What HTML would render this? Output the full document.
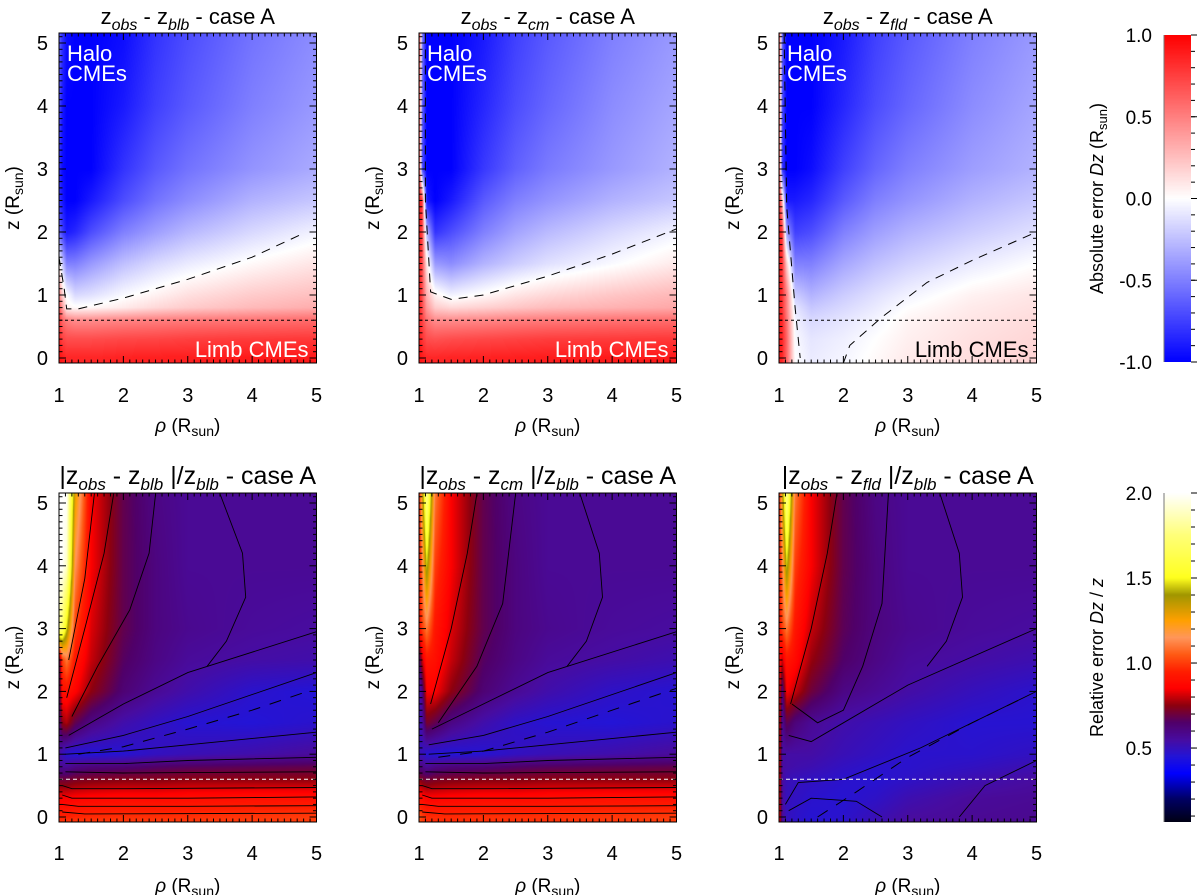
<!DOCTYPE html>
<html><head><meta charset="utf-8">
<style>
html,body{margin:0;padding:0;background:#fff;}
#wrap{position:relative;width:1200px;height:895px;overflow:hidden;font-family:"Liberation Sans",sans-serif;}
canvas{position:absolute;}
svg{position:absolute;left:0;top:0;}
</style></head>
<body>
<div id="wrap">
<svg id="svg" width="1200" height="895"></svg>
</div>
<script>
// ---------- data ----------
const rhoGrid = [1,1.05,1.12,1.25,1.5,2,2.5,3,4,5];
const zGrid = [5.15,4,3,2.5,2,1.5,1,0.8,0.6,0.3,0,-0.1];
const absBlb = [
[-0.6,-0.8,-0.95,-1,-1,-0.95,-0.8,-0.7,-0.55,-0.45],
[-0.7,-0.9,-1,-1,-1,-0.9,-0.75,-0.65,-0.5,-0.4],
[-0.8,-0.95,-1,-1,-1,-0.8,-0.65,-0.55,-0.42,-0.33],
[-0.8,-0.9,-1,-1,-0.9,-0.7,-0.55,-0.45,-0.3,-0.22],
[-0.6,-0.75,-0.9,-0.85,-0.7,-0.5,-0.38,-0.28,-0.15,-0.05],
[0.1,-0.2,-0.5,-0.5,-0.4,-0.25,-0.15,-0.08,0.02,0.1],
[0.5,0.2,0,-0.15,-0.12,-0.02,0.05,0.12,0.2,0.25],
[0.7,0.4,0.05,0.02,0.03,0.08,0.15,0.2,0.27,0.32],
[0.8,0.6,0.5,0.45,0.45,0.48,0.5,0.52,0.55,0.58],
[0.85,0.75,0.7,0.7,0.7,0.72,0.73,0.75,0.77,0.78],
[0.95,0.9,0.85,0.85,0.85,0.87,0.88,0.88,0.9,0.9],
[0.95,0.9,0.85,0.85,0.85,0.87,0.88,0.88,0.9,0.9]];
const absCm = [
[0.9,-0.5,-1,-1,-1,-0.9,-0.75,-0.65,-0.5,-0.4],
[0.9,-0.6,-1,-1,-1,-0.85,-0.7,-0.6,-0.45,-0.35],
[0.9,-0.7,-1,-1,-1,-0.78,-0.62,-0.52,-0.4,-0.3],
[0.9,0.8,-0.9,-1,-0.9,-0.65,-0.5,-0.42,-0.3,-0.22],
[0.9,0.75,-0.3,-0.8,-0.7,-0.5,-0.36,-0.27,-0.15,-0.05],
[0.9,0.7,0.1,-0.4,-0.45,-0.3,-0.2,-0.12,-0.02,0.08],
[0.9,0.7,0.3,0.05,-0.05,0.02,0.1,0.15,0.22,0.28],
[0.9,0.7,0.4,0.2,0.15,0.18,0.22,0.26,0.3,0.34],
[0.85,0.75,0.55,0.45,0.45,0.47,0.5,0.52,0.55,0.57],
[0.9,0.8,0.7,0.68,0.7,0.72,0.74,0.76,0.77,0.78],
[0.95,0.9,0.85,0.85,0.86,0.87,0.88,0.89,0.9,0.9],
[0.95,0.9,0.85,0.85,0.86,0.87,0.88,0.89,0.9,0.9]];
const absFld = [
[0.9,-0.6,-1,-1,-1,-0.9,-0.75,-0.65,-0.5,-0.4],
[0.9,-0.7,-1,-1,-1,-0.85,-0.7,-0.6,-0.45,-0.35],
[0.9,-0.8,-1,-1,-0.95,-0.75,-0.6,-0.5,-0.38,-0.3],
[0.9,0.3,-0.9,-0.9,-0.85,-0.65,-0.5,-0.42,-0.3,-0.22],
[0.9,0.8,-0.4,-0.75,-0.7,-0.5,-0.38,-0.3,-0.2,-0.12],
[0.9,0.8,0.2,-0.5,-0.5,-0.35,-0.25,-0.18,-0.08,0],
[0.9,0.8,0.5,-0.2,-0.3,-0.2,-0.12,-0.05,0.05,0.1],
[0.9,0.8,0.5,-0.1,-0.22,-0.15,-0.08,0,0.08,0.12],
[0.9,0.85,0.55,-0.05,-0.15,-0.1,-0.04,0.04,0.1,0.14],
[0.9,0.85,0.6,-0.02,-0.1,-0.06,0,0.06,0.12,0.16],
[0.9,0.85,0.6,0,-0.08,-0.04,0.02,0.08,0.13,0.17],
[0.9,0.85,0.6,0,-0.08,-0.04,0.02,0.08,0.13,0.17]];
const relBlb = [
[2,2,2,1.3,0.85,0.68,0.6,0.57,0.57,0.57],
[2,2,1.9,1.15,0.85,0.68,0.61,0.57,0.57,0.57],
[1.8,1.7,1.45,1.0,0.82,0.68,0.61,0.58,0.56,0.55],
[0.6,1.0,1.1,0.92,0.8,0.66,0.6,0.56,0.54,0.53],
[0.6,0.9,0.9,0.86,0.75,0.63,0.57,0.53,0.47,0.45],
[0.6,0.75,0.78,0.68,0.6,0.53,0.49,0.46,0.45,0.47],
[0.55,0.5,0.46,0.45,0.45,0.46,0.49,0.51,0.53,0.56],
[0.57,0.57,0.57,0.6,0.62,0.63,0.65,0.66,0.67,0.68],
[0.7,0.7,0.7,0.72,0.73,0.74,0.74,0.75,0.75,0.75],
[0.85,0.85,0.85,0.86,0.87,0.88,0.88,0.89,0.9,0.9],
[0.95,0.95,0.95,0.96,0.97,0.98,0.98,0.98,0.99,1.0],
[1.0,1.0,1.0,1.0,1.0,1.0,1.0,1.0,1.0,1.0]];
const relCm = [
[0.9,1.3,1.8,1.1,0.85,0.68,0.6,0.57,0.57,0.57],
[0.9,1.1,1.45,1.0,0.85,0.68,0.61,0.57,0.57,0.57],
[0.9,1.0,1.1,0.92,0.82,0.68,0.61,0.58,0.56,0.55],
[0.6,0.8,0.92,0.9,0.8,0.66,0.6,0.56,0.54,0.52],
[0.5,0.6,0.85,0.85,0.75,0.63,0.57,0.53,0.48,0.46],
[0.5,0.55,0.72,0.68,0.6,0.53,0.48,0.46,0.45,0.47],
[0.5,0.5,0.46,0.45,0.45,0.46,0.49,0.51,0.53,0.56],
[0.6,0.6,0.57,0.6,0.62,0.63,0.65,0.66,0.67,0.68],
[0.75,0.72,0.7,0.72,0.73,0.74,0.74,0.75,0.75,0.75],
[0.9,0.88,0.86,0.86,0.87,0.88,0.88,0.89,0.9,0.9],
[1.05,1.0,0.97,0.97,0.97,0.98,0.98,0.98,0.99,1.0],
[1.05,1.0,0.97,0.97,0.97,0.98,0.98,0.98,0.99,1.0]];
const relFld = [
[0.9,1.3,1.8,1.1,0.85,0.68,0.6,0.57,0.57,0.57],
[0.9,1.1,1.45,1.0,0.85,0.68,0.61,0.57,0.57,0.57],
[0.9,1.0,1.1,0.92,0.8,0.67,0.61,0.58,0.56,0.55],
[0.9,0.8,0.92,0.88,0.76,0.65,0.6,0.56,0.54,0.52],
[0.9,0.6,0.85,0.8,0.7,0.6,0.57,0.54,0.5,0.47],
[0.9,0.57,0.68,0.62,0.57,0.53,0.51,0.49,0.46,0.46],
[0.9,0.55,0.54,0.54,0.54,0.51,0.49,0.47,0.47,0.49],
[0.9,0.55,0.54,0.53,0.52,0.49,0.47,0.47,0.49,0.52],
[0.9,0.55,0.51,0.5,0.49,0.47,0.46,0.48,0.52,0.55],
[0.9,0.55,0.5,0.49,0.47,0.46,0.48,0.52,0.56,0.57],
[0.9,0.57,0.5,0.48,0.46,0.47,0.51,0.55,0.57,0.58],
[0.9,0.57,0.5,0.48,0.46,0.47,0.51,0.55,0.57,0.58]];
// zero-error dashed contours [rho,z]
const zeroBlb = [[[1.0,1.6],[1.08,1.1],[1.12,0.78],[1.3,0.78],[2,0.95],[3,1.25],[4,1.6],[4.8,1.98]]];
const zeroCm = [[[1.1,5.15],[1.1,2.5],[1.18,1.05],[1.5,0.93],[2,1.0],[3,1.3],[4,1.65],[5,2.05]]];
const zeroFld = [[[1.08,5.15],[1.12,2.4],[1.25,0.8],[1.33,0.0]],[[2.0,-0.08],[2.1,0.2],[2.6,0.65],[3.3,1.2],[4,1.55],[5,2.0]]];
const bandBlb = [[[1.3,1.0],[2,1.12],[3,1.4],[4,1.7],[4.8,1.98]]];
const bandCm = [[[1.3,0.95],[2,1.05],[3,1.35],[4,1.7],[5,2.05]]];
const bandFld = [[[1.6,0.0],[2.2,0.4],[3,0.95],[4,1.5],[4.8,1.9]]];
// selected solid contour lines of relative error
const relLinesBlb = [
[[1.05,0.5],[1.2,0.45],[2,0.45],[5,0.47]],[[1.05,0.35],[1.2,0.3],[3,0.3],[5,0.32]],
[[1.05,0.2],[1.3,0.17],[3,0.17],[5,0.18]],[[1.05,0.08],[1.4,0.05],[5,0.06]],
[[1.1,0.72],[2,0.7],[5,0.72]],[[1.1,0.85],[2,0.85],[3,0.9],[5,0.95]],
[[1.1,1.0],[2,1.05],[3,1.15],[5,1.35]],[[1.1,1.1],[2,1.3],[3,1.6],[5,2.3]],
[[1.15,1.3],[2,1.8],[3,2.3],[5,2.95]],[[1.2,1.6],[1.6,2.4],[2.1,3.3],[2.4,4.2],[2.5,5.15]],
[[1.12,1.9],[1.4,3],[1.7,4.2],[1.85,5.15]],[[1.15,2.5],[1.4,3.8],[1.55,5.15]],
[[3.5,5.15],[3.85,4.2],[3.9,3.5],[3.6,2.8],[3.3,2.4]]];
const relLinesCm = [
[[1.05,0.5],[1.2,0.45],[2,0.45],[5,0.47]],[[1.05,0.35],[1.2,0.3],[3,0.3],[5,0.32]],
[[1.05,0.2],[1.3,0.17],[3,0.17],[5,0.18]],[[1.05,0.08],[1.4,0.05],[5,0.06]],
[[1.1,0.72],[2,0.7],[5,0.72]],[[1.1,0.85],[2,0.85],[3,0.9],[5,0.95]],
[[1.15,1.0],[2,1.05],[3,1.15],[5,1.35]],[[1.15,1.15],[2,1.3],[3,1.6],[5,2.3]],
[[1.2,1.4],[2,1.8],[3,2.3],[5,2.95]],[[1.3,1.5],[1.9,2.4],[2.3,3.4],[2.5,5.15]],
[[1.18,1.8],[1.5,3],[1.75,4.2],[1.9,5.15]],[[3.5,5.15],[3.8,4.2],[3.85,3.5],[3.6,2.8],[3.3,2.4]]];
const relLinesFld = [
[[1.1,0.2],[1.3,0.55],[2,0.6],[3.2,1.1],[5,2.0]],[[1.15,0.1],[1.5,0.3],[2.2,0.25],[2.6,0.0]],
[[3.8,0.0],[4.2,0.5],[5,0.9]],[[1.15,1.3],[1.5,1.2],[2,1.5],[3,2.1],[5,3.0]],
[[1.2,1.8],[1.6,1.5],[2,1.7],[2.3,2.4],[2.6,3.4],[2.7,5.15]],
[[1.18,1.8],[1.5,3],[1.75,4.2],[1.9,5.15]],[[3.5,5.15],[3.8,4.2],[3.85,3.5],[3.6,2.8],[3.3,2.4]]];
const xTicks = [1,2,3,4,5];
const yTicks = [0,1,2,3,4,5];
const absCbTicks = [1.0,0.5,0.0,-0.5,-1.0];
const relCbTicks = [2.0,1.5,1.0,0.5];
const relStops = [[0.065,[0,0,20]],[0.2,[0,0,100]],[0.35,[0,0,255]],[0.45,[35,20,215]],[0.55,[72,12,160]],[0.65,[80,0,105]],[0.75,[140,0,15]],[0.85,[255,0,0]],[0.95,[255,30,0]],[1.05,[255,90,20]],[1.15,[255,150,90]],[1.25,[255,160,0]],[1.4,[160,150,0]],[1.5,[255,255,30]],[1.75,[255,255,120]],[2.0,[255,255,255]]];

// ---------- layout ----------
const panelLeft = [59,419,779];
const PW = 257.5, XS = 64.375;
const rows = [{top:33,bot:363,z0:358,zs:63},{top:493,bot:822,z0:817,zs:62.8}];
function xPix(p,r){return panelLeft[p]+(r-1)*XS;}
function yPix(row,z){return rows[row].z0-z*rows[row].zs;}

function absColor(v){v=Math.max(-1,Math.min(1,v));if(v<0){const t=-v;return [255*(1-t),255*(1-t),255];}return [255,255*(1-v),255*(1-v)];}
function relColor(v){if(v<=relStops[0][0])return relStops[0][1];for(let i=0;i<relStops.length-1;i++){const a=relStops[i],b=relStops[i+1];if(v<=b[0]){const t=(v-a[0])/(b[0]-a[0]);return a[1].map((c,k)=>c+(b[1][k]-c)*t);}}return relStops[relStops.length-1][1];}
function findIdx(arr,v,desc){for(let i=0;i<arr.length-1;i++){const a=arr[i],b=arr[i+1];if(desc?(v<=a&&v>=b):(v>=a&&v<=b))return i;}return desc?(v>arr[0]?0:arr.length-2):(v<arr[0]?0:arr.length-2);}
function sample(g,r,z){const i=findIdx(rhoGrid,r,false),j=findIdx(zGrid,z,true);
 let tx=(r-rhoGrid[i])/(rhoGrid[i+1]-rhoGrid[i]);let ty=(z-zGrid[j])/(zGrid[j+1]-zGrid[j]);tx=Math.max(0,Math.min(1,tx));ty=Math.max(0,Math.min(1,ty));
 const a=g[j][i],b=g[j][i+1],c=g[j+1][i],d=g[j+1][i+1];return (a*(1-tx)+b*tx)*(1-ty)+(c*(1-tx)+d*tx)*ty;}

const wrap=document.getElementById('wrap');
const svg=document.getElementById('svg');
const NS='http://www.w3.org/2000/svg';
function mk(tag,attrs,parent){const e=document.createElementNS(NS,tag);for(const k in attrs)e.setAttribute(k,attrs[k]);(parent||svg).appendChild(e);return e;}

function drawField(p,row,grid,cmap,name){
 const c=document.createElement('canvas');
 const W=Math.round(PW),H=rows[row].bot-rows[row].top;
 c.width=W;c.height=H;c.style.left=panelLeft[p]+'px';c.style.top=rows[row].top+'px';
 
 
 wrap.insertBefore(c,svg);
 const ctx=c.getContext('2d');const im=ctx.createImageData(W,H);
 for(let py=0;py<H;py++){const z=(rows[row].z0-(rows[row].top+py+0.5))/rows[row].zs;
  for(let px=0;px<W;px++){const r=1+(px+0.5)/XS;const col=cmap(sample(grid,r,z));const k=(py*W+px)*4;
   im.data[k]=col[0];im.data[k+1]=col[1];im.data[k+2]=col[2];im.data[k+3]=255;}}
 ctx.putImageData(im,0,0);
}
function drawLines(p,row,lines,attrs,name){
 const g=mk('g',{});
 
 
 lines.forEach(l=>{const pts=l.map(q=>xPix(p,q[0]).toFixed(1)+','+yPix(row,q[1]).toFixed(1)).join(' ');
  const pl=mk('polyline',Object.assign({points:pts,fill:'none'},attrs),g);
  
  });
}
function axes(p,row){
 const L=panelLeft[p],R=L+PW,T=rows[row].top,B=rows[row].bot;
 const g=mk('g',{stroke:'#000','stroke-width':1,fill:'none'});
 
 
 mk('rect',{x:L,y:T,width:PW,height:B-T,stroke:'#000'},g);
 for(let i=0;i<=40;i++){const r=1+i*0.1;const x=xPix(p,r);const len=(i%10===0)?7:3.5;
  mk('line',{x1:x,y1:B,x2:x,y2:B-len},g);mk('line',{x1:x,y1:T,x2:x,y2:T+len},g);}
 for(let i=-1;i<=51;i++){const z=i*0.1;const y=yPix(row,z);if(y<T||y>B)continue;const len=(i%10===0)?7:3.5;
  mk('line',{x1:L,y1:y,x2:L+len,y2:y},g);mk('line',{x1:R,y1:y,x2:R-len,y2:y},g);}
 const ly=row===0?402:860;
 xTicks.forEach(v=>{const t=mk('text',{x:xPix(p,v),y:ly,'text-anchor':'middle','font-size':20,fill:'#000'});t.textContent=v;
  
  });
 yTicks.forEach(v=>{const t=mk('text',{x:L-11,y:yPix(row,v)+7,'text-anchor':'end','font-size':20,fill:'#000'});t.textContent=v;
  
  });
 const xt=mk('text',{x:L+PW/2,y:row===0?432:892,'text-anchor':'middle','font-size':19,fill:'#000'});
 xt.innerHTML='<tspan font-style="italic">ρ</tspan> (R<tspan font-size="14" dy="4">sun</tspan><tspan dy="-4">)</tspan>';
 
 
 const cy=(T+B)/2;const yx=L-40;
 const yt=mk('text',{x:yx,y:cy,'text-anchor':'middle','font-size':19,fill:'#000',transform:`rotate(-90 ${yx} ${cy})`});
 yt.innerHTML='z (R<tspan font-size="14" dy="4">sun</tspan><tspan dy="-4">)</tspan>';
 
 
}
function title(p,row,html){
 const t=mk('text',{x:panelLeft[p]+PW/2,y:row===0?24:484,'text-anchor':'middle','font-size':row===0?22:25,fill:'#000'});
 t.innerHTML=html;
 
 
}
function sub(s,sz){return `<tspan font-size="${sz}" font-style="italic" dy="6">${s}</tspan><tspan dy="-6">`;}

// ---------- top row ----------
const absGrids=[absBlb,absCm,absFld], absZero=[zeroBlb,zeroCm,zeroFld], subs=['blb','cm','fld'];
for(let p=0;p<3;p++){
 drawField(p,0,absGrids[p],absColor,'absolute-error-map-'+subs[p]);
 drawLines(p,0,absZero[p],{stroke:'#000','stroke-width':1,'stroke-dasharray':'9,7'},'zero-contour');
 drawLines(p,0,[[[1,0.6],[5,0.6]]],{stroke:'#000','stroke-width':1,'stroke-dasharray':'3,3'},'limb-threshold-line');
 axes(p,0);
 title(p,0,`z${sub('obs',16)} - z${sub(subs[p],16)} - case A</tspan></tspan>`);
 const hx=panelLeft[p]+8;
 const h=mk('text',{x:hx,y:61,'font-size':22,fill:'#fff'});
 h.innerHTML=`<tspan x="${hx}">Halo</tspan><tspan x="${hx}" dy="20">CMEs</tspan>`;
 
 
 const lb=mk('text',{x:panelLeft[p]+PW-8,y:357,'text-anchor':'end','font-size':22,fill:p===2?'#000':'#fff'});
 lb.textContent='Limb CMEs';
 
 
}
// ---------- bottom row ----------
const relGrids=[relBlb,relCm,relFld], relLines=[relLinesBlb,relLinesCm,relLinesFld], bands=[bandBlb,bandCm,bandFld];
for(let p=0;p<3;p++){
 drawField(p,1,relGrids[p],relColor,'relative-error-map-'+subs[p]);
 drawLines(p,1,relLines[p],{stroke:'#000','stroke-width':0.9},'relative-contours');
 drawLines(p,1,bands[p],{stroke:'#000','stroke-width':1,'stroke-dasharray':'12,10'},'zero-contour');
 drawLines(p,1,[[[1,0.6],[5,0.6]]],{stroke:'#fff','stroke-width':1,'stroke-dasharray':'4,3'},'limb-threshold-line');
 axes(p,1);
 title(p,1,`|z${sub('obs',17)} - z${sub(subs[p],17)} </tspan></tspan>|/z${sub('blb',17)} - case A</tspan>`);
}
// ---------- colorbars ----------
function colorbar(top,bot,vTop,vBot,cmap,ticks,label,name){
 const c=document.createElement('canvas');const W=27,H=bot-top;
 c.width=W;c.height=H;c.style.left='1164px';c.style.top=top+'px';
 
 
 wrap.insertBefore(c,svg);const ctx=c.getContext('2d');
 for(let y=0;y<H;y++){const v=vTop+(vBot-vTop)*(y+0.5)/H;const col=cmap(v);ctx.fillStyle=`rgb(${col.map(Math.round).join(',')})`;ctx.fillRect(0,y,W,1);}
 const vy=v=>top+(v-vTop)/(vBot-vTop)*H;
 const g=mk('g',{stroke:'#000','stroke-width':1});
 
 
 mk('line',{x1:1164,y1:top,x2:1164,y2:bot,stroke:'#777'},g);
 ticks.forEach(v=>{const y=vy(v);mk('line',{x1:1191,y1:y,x2:1197,y2:y},g);
  const t=mk('text',{x:1152,y:y+7,'text-anchor':'end','font-size':19,fill:'#000',stroke:'none'});t.textContent=v.toFixed(1);
  
  });
 const step=(ticks[0]-ticks[1])/5;
 for(let v=ticks[0];v>=vBot-1e-6;v-=step){const y=vy(v);mk('line',{x1:1191,y1:y,x2:1195,y2:y},g);}
 const cy=(top+bot)/2;
 const t=mk('text',{x:1103,y:cy,'text-anchor':'middle','font-size':18,fill:'#000',transform:`rotate(-90 1103 ${cy})`});
 t.innerHTML=label;
 
 
}
colorbar(35,362,1.0,-1.0,absColor,absCbTicks,'Absolute error <tspan font-style="italic">Dz</tspan>  (R<tspan font-size="13" dy="4">sun</tspan><tspan dy="-4">)</tspan>','absolute-error-colorbar');
colorbar(493,822,2.0,0.065,relColor,relCbTicks,'Relative error <tspan font-style="italic">Dz</tspan> / <tspan font-style="italic">z</tspan>','relative-error-colorbar');
</script>
</body></html>
